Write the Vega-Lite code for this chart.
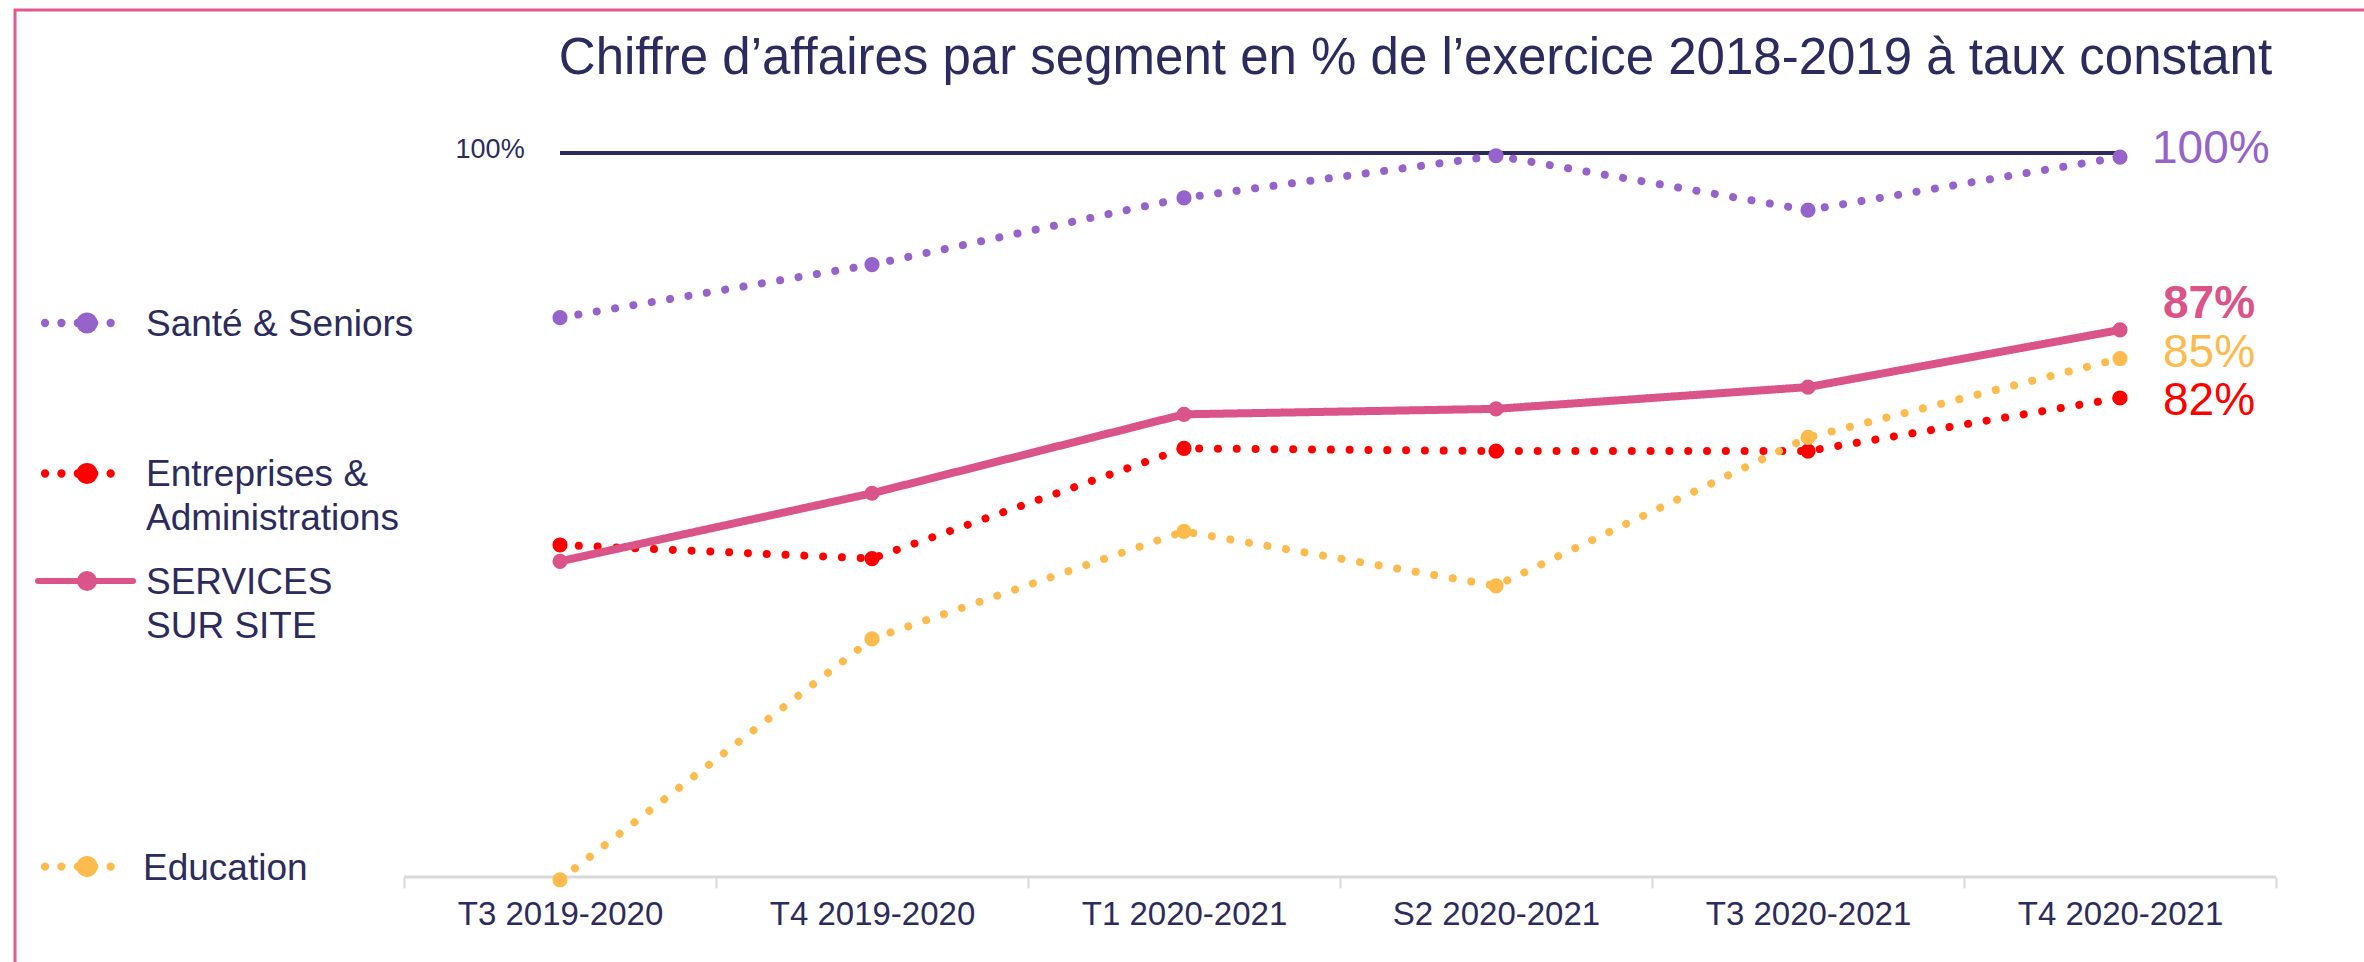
{
  "$schema": "https://vega.github.io/schema/vega-lite/v6.json",
  "width": 2364,
  "height": 962,
  "autosize": {"type": "fit", "contains": "padding"},
  "padding": {"left": 15, "top": 10, "right": -10, "bottom": -10},
  "background": "white",
  "config": {
    "view": {"stroke": "#E05B92", "strokeWidth": 3},
    "font": "Liberation Sans",
    "text": {"font": "Liberation Sans", "color": "#2C2B5E"}
  },
  "title": {
    "text": "Chiffre d’affaires par segment en % de l’exercice 2018-2019 à taux constant",
    "font": "Liberation Sans",
    "fontSize": 51,
    "fontWeight": "normal",
    "color": "#2C2B5E",
    "anchor": "middle",
    "frame": "group",
    "dx": 221,
    "offset": -115,
    "baseline": "alphabetic"
  },
  "data": {
    "values": [
      {"periode": "T3 2019-2020", "t": 0, "segment": "Santé & Seniors", "valeur": 87.9},
      {"periode": "T3 2019-2020", "t": 0, "segment": "Entreprises & Administrations", "valeur": 71.2},
      {"periode": "T3 2019-2020", "t": 0, "segment": "SERVICES SUR SITE", "valeur": 70.0},
      {"periode": "T3 2019-2020", "t": 0, "segment": "Education", "valeur": 46.6},
      {"periode": "T4 2019-2020", "t": 1, "segment": "Santé & Seniors", "valeur": 91.8},
      {"periode": "T4 2019-2020", "t": 1, "segment": "Entreprises & Administrations", "valeur": 70.2},
      {"periode": "T4 2019-2020", "t": 1, "segment": "SERVICES SUR SITE", "valeur": 75.0},
      {"periode": "T4 2019-2020", "t": 1, "segment": "Education", "valeur": 64.3},
      {"periode": "T1 2020-2021", "t": 2, "segment": "Santé & Seniors", "valeur": 96.7},
      {"periode": "T1 2020-2021", "t": 2, "segment": "Entreprises & Administrations", "valeur": 78.3},
      {"periode": "T1 2020-2021", "t": 2, "segment": "SERVICES SUR SITE", "valeur": 80.8},
      {"periode": "T1 2020-2021", "t": 2, "segment": "Education", "valeur": 72.2},
      {"periode": "S2 2020-2021", "t": 3, "segment": "Santé & Seniors", "valeur": 99.8},
      {"periode": "S2 2020-2021", "t": 3, "segment": "Entreprises & Administrations", "valeur": 78.1},
      {"periode": "S2 2020-2021", "t": 3, "segment": "SERVICES SUR SITE", "valeur": 81.2},
      {"periode": "S2 2020-2021", "t": 3, "segment": "Education", "valeur": 68.2},
      {"periode": "T3 2020-2021", "t": 4, "segment": "Santé & Seniors", "valeur": 95.8},
      {"periode": "T3 2020-2021", "t": 4, "segment": "Entreprises & Administrations", "valeur": 78.1},
      {"periode": "T3 2020-2021", "t": 4, "segment": "SERVICES SUR SITE", "valeur": 82.8},
      {"periode": "T3 2020-2021", "t": 4, "segment": "Education", "valeur": 79.1},
      {"periode": "T4 2020-2021", "t": 5, "segment": "Santé & Seniors", "valeur": 99.7},
      {"periode": "T4 2020-2021", "t": 5, "segment": "Entreprises & Administrations", "valeur": 82.0},
      {"periode": "T4 2020-2021", "t": 5, "segment": "SERVICES SUR SITE", "valeur": 87.0},
      {"periode": "T4 2020-2021", "t": 5, "segment": "Education", "valeur": 84.9}
    ]
  },
  "encoding": {
    "x": {
      "field": "t",
      "type": "quantitative",
      "scale": {"domain": [-1.7468, 5.8141], "nice": false, "zero": false},
      "axis": {
        "orient": "bottom",
        "title": null,
        "values": [-0.5, 0, 0.5, 1, 1.5, 2, 2.5, 3, 3.5, 4, 4.5, 5, 5.5],
        "labelExpr": "datum.value === 0 ? 'T3 2019-2020' : datum.value === 1 ? 'T4 2019-2020' : datum.value === 2 ? 'T1 2020-2021' : datum.value === 3 ? 'S2 2020-2021' : datum.value === 4 ? 'T3 2020-2021' : datum.value === 5 ? 'T4 2020-2021' : ''",
        "domain": false,
        "grid": false,
        "offset": -95,
        "tickColor": "#D9D9D9",
        "tickWidth": 2,
        "tickSize": 11,
        "tickOpacity": {"condition": {"test": "datum.value % 1 === 0", "value": 0}, "value": 1},
        "labelPadding": 10,
        "labelLimit": 0,
        "labelFont": "Liberation Sans",
        "labelFontSize": 33,
        "labelColor": "#2C2B5E",
        "labelOverlap": false,
        "labelBound": false,
        "labelFlush": false
      }
    },
    "y": {
      "field": "valeur",
      "type": "quantitative",
      "scale": {"domain": [39.824, 110.507], "nice": false, "zero": false},
      "axis": null
    }
  },
  "layer": [
    {
      "transform": [{"filter": "datum.t === 0 && datum.segment === 'Education'"}],
      "mark": {"type": "rule", "color": "#D9D9D9", "strokeWidth": 3},
      "encoding": {
        "x": {"datum": -0.5, "type": "quantitative"},
        "x2": {"datum": 5.5},
        "y": {"datum": 46.8, "type": "quantitative"}
      }
    },
    {
      "transform": [{"filter": "datum.t === 0 && datum.segment === 'Education'"}],
      "mark": {"type": "rule", "color": "#2C2B5E", "strokeWidth": 4},
      "encoding": {
        "x": {"datum": 0, "type": "quantitative"},
        "x2": {"datum": 5},
        "y": {"datum": 100, "type": "quantitative"}
      }
    },
    {
      "transform": [{"filter": "datum.t === 0 && datum.segment === 'Education'"}],
      "mark": {"type": "text", "fontSize": 27, "align": "center", "baseline": "middle", "dy": -3, "color": "#2C2B5E"},
      "encoding": {
        "x": {"datum": -0.224, "type": "quantitative"},
        "y": {"datum": 100, "type": "quantitative"},
        "text": {"value": "100%"}
      }
    },
    {
      "mark": {"type": "line", "strokeWidth": 8, "strokeCap": "round"},
      "encoding": {
        "color": {
          "field": "segment",
          "type": "nominal",
          "scale": {
            "domain": ["Santé & Seniors", "Entreprises & Administrations", "SERVICES SUR SITE", "Education"],
            "range": ["#9563C9", "#FF0000", "#DA5489", "#FDBB4E"]
          },
          "legend": null
        },
        "strokeDash": {
          "field": "segment",
          "type": "nominal",
          "scale": {
            "domain": ["Santé & Seniors", "Entreprises & Administrations", "SERVICES SUR SITE", "Education"],
            "range": [[0.01, 18.6], [0.01, 18.8], [1, 0], [0.01, 18.8]]
          },
          "legend": null
        }
      }
    },
    {
      "mark": {"type": "circle", "opacity": 1, "size": 230},
      "encoding": {
        "color": {"field": "segment", "type": "nominal", "legend": null}
      }
    },
    {
      "transform": [{"filter": "datum.t === 5 && datum.segment === 'Santé & Seniors'"}],
      "mark": {"type": "text", "fontSize": 46, "align": "left", "baseline": "middle", "dx": 32, "dy": -8, "color": "#9563C9"},
      "encoding": {"text": {"value": "100%"}}
    },
    {
      "transform": [{"filter": "datum.t === 5 && datum.segment === 'SERVICES SUR SITE'"}],
      "mark": {"type": "text", "fontSize": 46, "fontWeight": "bold", "align": "left", "baseline": "middle", "dx": 43, "dy": -26, "color": "#DA5489"},
      "encoding": {"text": {"value": "87%"}}
    },
    {
      "transform": [{"filter": "datum.t === 5 && datum.segment === 'Education'"}],
      "mark": {"type": "text", "fontSize": 46, "align": "left", "baseline": "middle", "dx": 43, "dy": -6, "color": "#FDBB4E"},
      "encoding": {"text": {"value": "85%"}}
    },
    {
      "transform": [{"filter": "datum.t === 5 && datum.segment === 'Entreprises & Administrations'"}],
      "mark": {"type": "text", "fontSize": 46, "align": "left", "baseline": "middle", "dx": 43, "dy": 3, "color": "#FF0000"},
      "encoding": {"text": {"value": "82%"}}
    },
    {
      "transform": [{"filter": "datum.t === 0 && datum.segment === 'Education'"}],
      "mark": {"type": "rule", "color": "#9563C9", "strokeWidth": 8.3, "strokeCap": "round", "strokeDash": [0.01, 16.4]},
      "encoding": {
        "x": {"datum": -1.6506, "type": "quantitative"},
        "x2": {"datum": -1.3878},
        "y": {"datum": 87.51, "type": "quantitative"}
      }
    },
    {
      "transform": [{"filter": "datum.t === 0 && datum.segment === 'Education'"}],
      "mark": {"type": "circle", "color": "#9563C9", "opacity": 1, "size": 450},
      "encoding": {
        "x": {"datum": -1.516, "type": "quantitative"},
        "y": {"datum": 87.51, "type": "quantitative"}
      }
    },
    {
      "transform": [{"filter": "datum.t === 0 && datum.segment === 'Education'"}],
      "mark": {"type": "text", "fontSize": 37, "align": "left", "baseline": "top", "color": "#2C2B5E"},
      "encoding": {
        "x": {"datum": -1.327, "type": "quantitative"},
        "y": {"datum": 88.68, "type": "quantitative"},
        "text": {"value": "Santé & Seniors"}
      }
    },
    {
      "transform": [{"filter": "datum.t === 0 && datum.segment === 'Education'"}],
      "mark": {"type": "rule", "color": "#FF0000", "strokeWidth": 8.3, "strokeCap": "round", "strokeDash": [0.01, 16.4]},
      "encoding": {
        "x": {"datum": -1.6506, "type": "quantitative"},
        "x2": {"datum": -1.3878},
        "y": {"datum": 76.45, "type": "quantitative"}
      }
    },
    {
      "transform": [{"filter": "datum.t === 0 && datum.segment === 'Education'"}],
      "mark": {"type": "circle", "color": "#FF0000", "opacity": 1, "size": 450},
      "encoding": {
        "x": {"datum": -1.516, "type": "quantitative"},
        "y": {"datum": 76.45, "type": "quantitative"}
      }
    },
    {
      "transform": [{"filter": "datum.t === 0 && datum.segment === 'Education'"}],
      "mark": {"type": "text", "fontSize": 37, "align": "left", "baseline": "top", "lineHeight": 44, "color": "#2C2B5E"},
      "encoding": {
        "x": {"datum": -1.327, "type": "quantitative"},
        "y": {"datum": 77.63, "type": "quantitative"},
        "text": {"value": ["Entreprises &", "Administrations"]}
      }
    },
    {
      "transform": [{"filter": "datum.t === 0 && datum.segment === 'Education'"}],
      "mark": {"type": "rule", "color": "#DA5489", "strokeWidth": 6, "strokeCap": "round"},
      "encoding": {
        "x": {"datum": -1.673, "type": "quantitative"},
        "x2": {"datum": -1.3686},
        "y": {"datum": 68.55, "type": "quantitative"}
      }
    },
    {
      "transform": [{"filter": "datum.t === 0 && datum.segment === 'Education'"}],
      "mark": {"type": "circle", "color": "#DA5489", "opacity": 1, "size": 400},
      "encoding": {
        "x": {"datum": -1.516, "type": "quantitative"},
        "y": {"datum": 68.55, "type": "quantitative"}
      }
    },
    {
      "transform": [{"filter": "datum.t === 0 && datum.segment === 'Education'"}],
      "mark": {"type": "text", "fontSize": 37, "align": "left", "baseline": "top", "lineHeight": 44, "color": "#2C2B5E"},
      "encoding": {
        "x": {"datum": -1.327, "type": "quantitative"},
        "y": {"datum": 69.73, "type": "quantitative"},
        "text": {"value": ["SERVICES", "SUR SITE"]}
      }
    },
    {
      "transform": [{"filter": "datum.t === 0 && datum.segment === 'Education'"}],
      "mark": {"type": "rule", "color": "#FDBB4E", "strokeWidth": 8.3, "strokeCap": "round", "strokeDash": [0.01, 16.4]},
      "encoding": {
        "x": {"datum": -1.6506, "type": "quantitative"},
        "x2": {"datum": -1.3878},
        "y": {"datum": 47.57, "type": "quantitative"}
      }
    },
    {
      "transform": [{"filter": "datum.t === 0 && datum.segment === 'Education'"}],
      "mark": {"type": "circle", "color": "#FDBB4E", "opacity": 1, "size": 450},
      "encoding": {
        "x": {"datum": -1.516, "type": "quantitative"},
        "y": {"datum": 47.57, "type": "quantitative"}
      }
    },
    {
      "transform": [{"filter": "datum.t === 0 && datum.segment === 'Education'"}],
      "mark": {"type": "text", "fontSize": 37, "align": "left", "baseline": "top", "color": "#2C2B5E"},
      "encoding": {
        "x": {"datum": -1.3365, "type": "quantitative"},
        "y": {"datum": 48.74, "type": "quantitative"},
        "text": {"value": "Education"}
      }
    }
  ]
}
